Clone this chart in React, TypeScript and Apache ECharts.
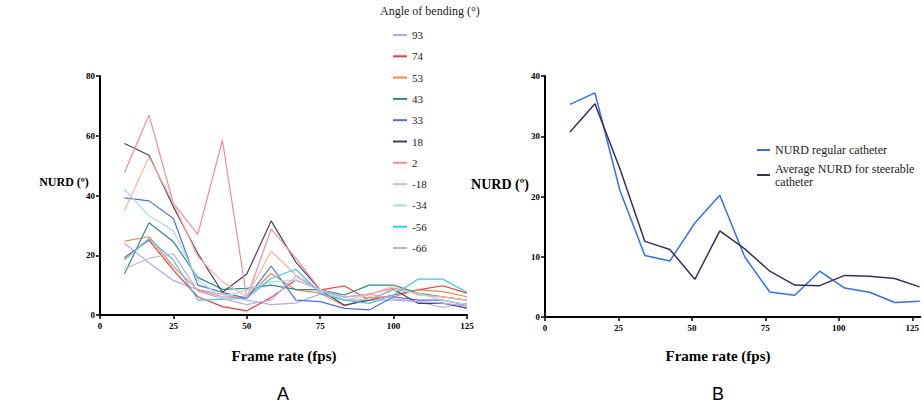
import React, { useEffect, useRef } from "react";
import * as echarts from "echarts";

// Frame rates (fps) of the measurements
const FPS_A = [8.3, 16.7, 25, 33.3, 41.7, 50, 58.3, 66.7, 75, 83.3, 91.7, 100, 108.3, 116.7, 125];
const FPS_B = [8.5, 17, 25.5, 34, 42.5, 51, 59.5, 68, 76.5, 85, 93.5, 102, 110.5, 119, 127.5];

// Panel A: NURD per angle of bending
const ANGLES = ["93", "74", "53", "43", "33", "18", "2", "-18", "-34", "-56", "-66"];
const A_93 = [24, 17.5, 11.5, 8.5, 7, 5, 3.5, 4, 7, 5, 5, 5, 4.5, 2.5, 4];
const A_74 = [19.2, 25.1, 15, 6.1, 2.8, 1.4, 5.9, 11.7, 8.4, 9.7, 5, 6.7, 8.4, 9.8, 7.3];
const A_53 = [24.7, 26.2, 16.2, 8.4, 6.1, 5.9, 13.9, 8.4, 7.3, 3, 5.9, 6.1, 8.4, 7.8, 6.1];
const A_43 = [13.7, 30.9, 24.5, 12.6, 8.6, 8.9, 10, 8.6, 8.4, 6.7, 10, 10, 7.3, 6.1, 5];
const A_33 = [39.2, 38.2, 32.3, 10, 7.6, 5.6, 16.4, 5, 4.5, 2.2, 1.7, 6.1, 5, 5, 3.3];
const A_18 = [57.4, 53.5, 36.2, 20.6, 7.6, 13.7, 31.5, 17.7, 8.4, 3.3, 5, 8.6, 3.9, 4, 2.3];
const A_2 = [47.6, 66.9, 37.4, 27, 58.5, 5.6, 28.8, 19, 8.5, 6, 7, 9, 7, 6, 5];
const A_M18 = [34.9, 52.9, 37.4, 19.5, 11.1, 6.1, 21.4, 13.4, 8.4, 5, 6.7, 9.8, 6.7, 6.1, 5];
const A_M34 = [42.1, 33.2, 28.2, 11.7, 5.9, 8.4, 11.1, 11.7, 8.4, 5, 5.2, 8.4, 7.3, 5, 3.5];
const A_M56 = [18.4, 25.6, 18.4, 5, 5.2, 5.6, 12.3, 15.3, 7.3, 5, 3.9, 6.7, 12, 12, 7.6];
const A_M66 = [15.5, 19, 20.5, 8, 5.5, 3.5, 5, 13, 8, 6, 7, 5.5, 4.5, 4, 3];
const A_VALUES = [A_93, A_74, A_53, A_43, A_33, A_18, A_2, A_M18, A_M34, A_M56, A_M66];
const A_COLORS = ["#b3a8ea", "#f03a3a", "#f4874a", "#2f8a8c", "#4a6cf0", "#4b3c6c", "#f68b98", "#f9b39c", "#a8dcdc", "#3cc8f2", "#bdaee2"];

// Panel B
const B_NAMES = ["NURD regular catheter", "Average NURD for steerable catheter"];
const B_REGULAR = [35.3, 37.2, 21.0, 10.2, 9.3, 15.6, 20.2, 9.95, 4.15, 3.6, 7.6, 4.8, 4.1, 2.4, 2.6];
const B_AVERAGE = [30.7, 35.4, 24.6, 12.55, 11.2, 6.25, 14.3, 11.3, 7.6, 5.3, 5.2, 6.9, 6.75, 6.4, 5.0];
const B_COLORS = ["#3070f2", "#3e2c5e"];

const X_TICKS = [0, 25, 50, 75, 100, 125];
const Y_TICKS_A = [0, 20, 40, 60, 80];
const Y_TICKS_B = [0, 10, 20, 30, 40];

const SERIF = "Liberation Serif";
const SANS = "Liberation Sans";

function axisX(gridIndex: number, max: number) {
  return {
    type: "value",
    gridIndex,
    min: 0,
    max,
    interval: 25,
    splitLine: { show: false },
    axisLine: { lineStyle: { color: "#000", width: 2 } },
    axisTick: { length: 4, lineStyle: { color: "#000", width: 1.5 }, customValues: X_TICKS },
    axisLabel: { customValues: X_TICKS, color: "#000", fontFamily: SERIF, fontWeight: "bold", fontSize: 9, margin: 6 },
  };
}

function axisY(gridIndex: number, max: number, interval: number, ticks: number[]) {
  return {
    type: "value",
    gridIndex,
    min: 0,
    max,
    interval,
    splitLine: { show: false },
    axisLine: { show: true, lineStyle: { color: "#000", width: 2 } },
    axisTick: { show: true, length: 4, lineStyle: { color: "#000", width: 1.5 }, customValues: ticks },
    axisLabel: { customValues: ticks, color: "#000", fontFamily: SERIF, fontWeight: "bold", fontSize: 9, margin: 5 },
  };
}

export default function App() {
  const ref = useRef<HTMLDivElement>(null);

  useEffect(() => {
    document.body.style.margin = "0";
    if (!ref.current) return;
    const chart = echarts.init(ref.current, null, { renderer: "svg" });

    const seriesA = ANGLES.map((name, i) => ({
      name,
      type: "line",
      xAxisIndex: 0,
      yAxisIndex: 0,
      showSymbol: false,
      symbol: "none",
      lineStyle: { width: 1.2, color: A_COLORS[i] },
      itemStyle: { color: A_COLORS[i] },
      data: FPS_A.map((x, k) => [x, A_VALUES[i][k]]),
    }));

    const bValues = [B_REGULAR, B_AVERAGE];
    const seriesB = B_NAMES.map((name, i) => ({
      name,
      type: "line",
      xAxisIndex: 1,
      yAxisIndex: 1,
      showSymbol: false,
      symbol: "none",
      lineStyle: { width: 1.5, color: B_COLORS[i] },
      itemStyle: { color: B_COLORS[i] },
      data: FPS_B.map((x, k) => [x, bValues[i][k]]),
    }));

    const label = (text: string, size: number, weight = "bold", family = SERIF) => ({
      text,
      fill: "#000",
      fontFamily: family,
      fontSize: size,
      fontWeight: weight,
      align: "center",
      verticalAlign: "middle",
    });

    chart.setOption({
      animation: false,
      backgroundColor: "#fff",
      grid: [
        { left: 100, top: 76, width: 367, height: 239 },
        { left: 545, top: 76, width: 377, height: 241 },
      ],
      xAxis: [axisX(0, 125), axisX(1, 127.7)],
      yAxis: [axisY(0, 80, 20, Y_TICKS_A), axisY(1, 40, 10, Y_TICKS_B)],
      legend: [
        {
          data: ANGLES,
          orient: "vertical",
          left: 388,
          top: 24,
          icon: "rect",
          itemWidth: 14,
          itemHeight: 2,
          itemGap: 9.3,
          textStyle: { fontFamily: SERIF, fontSize: 11, lineHeight: 12, color: "#222" },
        },
        {
          data: B_NAMES,
          orient: "vertical",
          left: 752,
          top: 138.5,
          icon: "rect",
          itemWidth: 13,
          itemHeight: 2,
          itemGap: 5.5,
          formatter: (name: string) =>
            name === "Average NURD for steerable catheter" ? "Average NURD for steerable\ncatheter" : name,
          textStyle: { fontFamily: SERIF, fontSize: 12, lineHeight: 13, color: "#222" },
        },
      ],
      graphic: [
        {
          type: "text",
          left: 380,
          top: 5,
          style: { text: "Angle of bending (°)", fill: "#222", fontFamily: SERIF, fontSize: 12 },
        },
        { type: "text", x: 64, y: 182, style: label("NURD (º)", 12) },
        { type: "text", x: 500, y: 184, style: label("NURD (º)", 14) },
        { type: "text", x: 284, y: 356, style: label("Frame rate (fps)", 15) },
        { type: "text", x: 718, y: 356, style: label("Frame rate (fps)", 15) },
        { type: "text", x: 283, y: 394, style: label("A", 18, "normal", SANS) },
        { type: "text", x: 718, y: 394, style: label("B", 18, "normal", SANS) },
      ],
      series: [...seriesA, ...seriesB],
    });

    return () => chart.dispose();
  }, []);

  return <div ref={ref} style={{ position: "absolute", left: 0, top: 0, width: 922, height: 406 }} />;
}
